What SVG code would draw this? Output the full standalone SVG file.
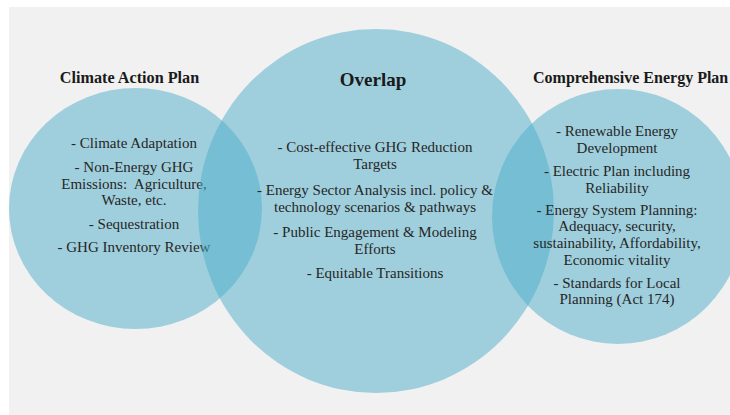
<svg xmlns="http://www.w3.org/2000/svg" width="730" height="415" viewBox="0 0 730 415">
  <style>
    .bg { fill: #f1f1f1; }
    .circle { fill: #4daec9; fill-opacity: 0.5; }
    .title { font-family: "Liberation Serif", "Times New Roman", serif; font-weight: bold; fill: #1a1a1a; text-anchor: middle; }
    .item { font-family: "Liberation Serif", "Times New Roman", serif; font-size: 15px; fill: #262626; text-anchor: middle; }
  </style>
  <rect x="0" y="0" width="730" height="415" fill="#ffffff"/>
  <rect class="bg" x="9" y="7" width="721" height="408"/>

  <g id="climate-action-plan">
    <ellipse class="circle" cx="135.5" cy="208.5" rx="126.5" ry="120.5"/>
    <text class="title" x="129.5" y="83" font-size="16.2">Climate Action Plan</text>
    <text class="item" x="134" y="148">- Climate Adaptation</text>
    <text class="item" x="134" y="172">- Non-Energy GHG</text>
    <text class="item" x="134" y="189" xml:space="preserve">Emissions:  Agriculture,</text>
    <text class="item" x="134" y="205">Waste, etc.</text>
    <text class="item" x="134" y="229">- Sequestration</text>
    <text class="item" x="134" y="252">- GHG Inventory Review</text>
  </g>

  <g id="overlap">
    <ellipse class="circle" cx="376" cy="211" rx="178" ry="182"/>
    <text class="title" x="373" y="86" font-size="19">Overlap</text>
    <text class="item" x="375" y="152">- Cost-effective GHG Reduction</text>
    <text class="item" x="375" y="169">Targets</text>
    <text class="item" x="375" y="195">- Energy Sector Analysis incl. policy &amp;</text>
    <text class="item" x="375" y="212">technology scenarios &amp; pathways</text>
    <text class="item" x="375" y="237">- Public Engagement &amp; Modeling</text>
    <text class="item" x="375" y="254">Efforts</text>
    <text class="item" x="375" y="278">- Equitable Transitions</text>
  </g>

  <g id="comprehensive-energy-plan">
    <ellipse class="circle" cx="618" cy="216.5" rx="126" ry="127.5"/>
    <text class="title" x="533" y="83" font-size="16" style="text-anchor:start">Comprehensive Energy Plan</text>
    <text class="item" x="617" y="136">- Renewable Energy</text>
    <text class="item" x="617" y="153">Development</text>
    <text class="item" x="617" y="176">- Electric Plan including</text>
    <text class="item" x="617" y="193">Reliability</text>
    <text class="item" x="617" y="215">- Energy System Planning:</text>
    <text class="item" x="617" y="231">Adequacy, security,</text>
    <text class="item" x="617" y="248">sustainability, Affordability,</text>
    <text class="item" x="617" y="265">Economic vitality</text>
    <text class="item" x="617" y="288">- Standards for Local</text>
    <text class="item" x="617" y="304">Planning (Act 174)</text>
  </g>

  <g id="connectors"/>
</svg>
